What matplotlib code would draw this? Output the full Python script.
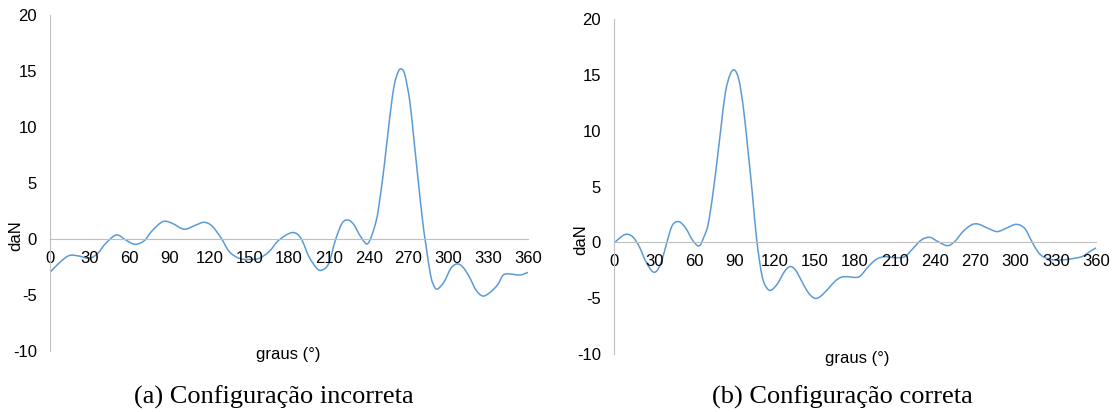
import matplotlib.pyplot as plt
from matplotlib.path import Path
from matplotlib.patches import PathPatch

# force readings (daN) against angle (graus)
incorreta_graus = [0, 7, 14.5, 22, 29.6, 36, 42, 50, 57, 64, 71, 77, 85, 92, 101, 110,
                   116, 122, 129, 135, 142.5, 150, 157.5, 165, 172.5, 182.5, 189, 195,
                   201, 205, 210, 215, 220, 224.6, 229, 234, 239.5, 245.5, 248.5, 251.8,
                   255.5, 259, 262.3, 264.8, 267.3, 271, 274, 277.4, 280.7, 283.1, 286.8,
                   289.8, 292.3, 296.8, 301.9, 306.4, 310.7, 315.7, 320.7, 325.7, 330.8,
                   337, 341.4, 346.4, 354, 360]
incorreta_daN = [-2.95, -2.1, -1.45, -1.5, -1.7, -1.25, -0.36, 0.39, -0.06, -0.45, -0.12,
                 0.77, 1.58, 1.43, 0.9, 1.28, 1.52, 1.19, 0.09, -1.1, -1.7, -1.8, -1.7,
                 -1.1, -0.06, 0.6, 0.09, -1.55, -2.6, -2.74, -2.14, -0.06, 1.43, 1.72,
                 1.28, 0.24, -0.36, 1.57, 3.66, 6.63, 10.5, 13.6, 14.97, 15.2, 14.67,
                 12.3, 9.0, 5.14, 1.57, -0.5, -3.3, -4.3, -4.4, -3.8, -2.6, -2.2, -2.45,
                 -3.33, -4.5, -5.06, -4.8, -4.08, -3.19, -3.1, -3.19, -2.95]

correta_graus = [0, 4, 8.9, 13.9, 18.9, 23.8, 28.8, 32.5, 36.2, 40, 43.7, 48.6, 53.6,
                 58.6, 63.5, 67.2, 70.2, 73.4, 76.9, 80.1, 83.3, 86.8, 90, 93.3, 96.7,
                 99.9, 103.2, 106.6, 110.7, 114.4, 117.6, 122.3, 127.3, 131.5, 135.5,
                 140.4, 145.4, 149.9, 154, 160.3, 165, 170, 175.5, 180, 184, 190, 196,
                 202.3, 209.8, 217.2, 223.4, 229.6, 235.8, 242, 249, 254.4, 260.6, 266.8,
                 271.8, 279.3, 286.2, 292.9, 300.3, 306.6, 311.5, 316.5, 321.4, 329.4,
                 339.3, 349.2, 355.4, 360]
correta_daN = [-0.09, 0.36, 0.72, 0.5, -0.39, -1.73, -2.63, -2.48, -1.43, 0.21, 1.55,
               1.85, 1.26, 0.21, -0.33, 0.5, 1.55, 3.94, 7.23, 10.5, 13.5, 15.07, 15.45,
               14.56, 12.0, 8.43, 4.54, 0.2, -3.08, -4.13, -4.28, -3.68, -2.63, -2.18,
               -2.48, -3.53, -4.57, -5.02, -4.87, -4.13, -3.5, -3.12, -3.1, -3.15, -3.02,
               -2.18, -1.52, -1.29, -1.38, -1.29, -0.54, 0.21, 0.45, 0.06, -0.3, 0.06,
               0.96, 1.55, 1.64, 1.26, 0.96, 1.26, 1.61, 1.26, 0.21, -0.84, -1.35, -1.59,
               -1.52, -1.29, -0.84, -0.5]

x_ticks = list(range(0, 361, 30))
y_ticks = [-10, -5, 0, 5, 10, 15, 20]
legendas = ["(a) Configuração incorreta", "(b) Configuração correta"]

W, H = 1116, 412
FS = 12


def smooth_path(xs, ys):
    '''Excel-like smoothed line: bezier segments through the data points'''
    verts = [(xs[0], ys[0])]
    codes = [Path.MOVETO]
    n = len(xs)
    for i in range(n - 1):
        x0, y0 = (xs[i - 1], ys[i - 1]) if i > 0 else (xs[i], ys[i])
        x1, y1 = xs[i], ys[i]
        x2, y2 = xs[i + 1], ys[i + 1]
        x3, y3 = (xs[i + 2], ys[i + 2]) if i + 2 < n else (x2, y2)
        c1 = (x1 + (x2 - x0) / 6, y1 + (y2 - y0) / 6)
        c2 = (x2 - (x3 - x1) / 6, y2 - (y3 - y1) / 6)
        verts += [c1, c2, (x2, y2)]
        codes += [Path.CURVE4] * 3
    return Path(verts, codes)


def draw_panel(ax, graus, daN):
    ax.add_patch(PathPatch(smooth_path(graus, daN), fill=False,
                           edgecolor="#5b9bd5", linewidth=1.1))
    ax.set_xlim(0, 360)
    ax.set_ylim(-10, 20)
    ax.set_xticks(x_ticks)
    ax.set_yticks(y_ticks)
    ax.set_xticklabels([str(t) for t in x_ticks])
    ax.set_yticklabels([str(t) for t in y_ticks])

    '''Excel style: x axis sits on y = 0, only light grey axis lines'''
    ax.spines["bottom"].set_position(("data", 0))
    ax.spines["bottom"].set_color("#bfbfbf")
    ax.spines["left"].set_color("#bfbfbf")
    ax.spines["top"].set_visible(False)
    ax.spines["right"].set_visible(False)
    ax.tick_params(axis="x", length=0, pad=8.5, labelsize=FS, labelcolor="black")
    ax.tick_params(axis="y", length=0, pad=9.5, labelsize=FS, labelcolor="black")
    for lbl in ax.get_xticklabels() + ax.get_yticklabels():
        lbl.set_family("Liberation Sans")
    ax.patch.set_alpha(0)


def main():
    fig = plt.figure(figsize=(W / 100, H / 100), dpi=100)

    ax1 = fig.add_axes([50 / W, 1 - 351.3 / H, 478 / W, 336 / H])
    ax2 = fig.add_axes([614 / W, 1 - 353.8 / H, 482 / W, 334.5 / H])

    draw_panel(ax1, incorreta_graus, incorreta_daN)
    draw_panel(ax2, correta_graus, correta_daN)

    '''Axis titles, placed like the original'''
    sans = dict(family="Liberation Sans", fontsize=FS, color="black")
    fig.text(16 / W, 1 - 236 / H, "daN", rotation=90, ha="center", va="center", **sans)
    fig.text(581 / W, 1 - 240 / H, "daN", rotation=90, ha="center", va="center", **sans)
    fig.text(288 / W, 1 - 355 / H, "graus (°)", ha="center", va="center", **sans)
    fig.text(857 / W, 1 - 358 / H, "graus (°)", ha="center", va="center", **sans)

    '''Sub-figure captions'''
    serif = dict(family="Liberation Serif", fontsize=19, color="black")
    fig.text(274 / W, 1 - 397 / H, legendas[0], ha="center", va="center", **serif)
    fig.text(842 / W, 1 - 397 / H, legendas[1], ha="center", va="center", **serif)

    fig.savefig("out.png", dpi=100)
    plt.close(fig)


if __name__ == "__main__":
    main()
